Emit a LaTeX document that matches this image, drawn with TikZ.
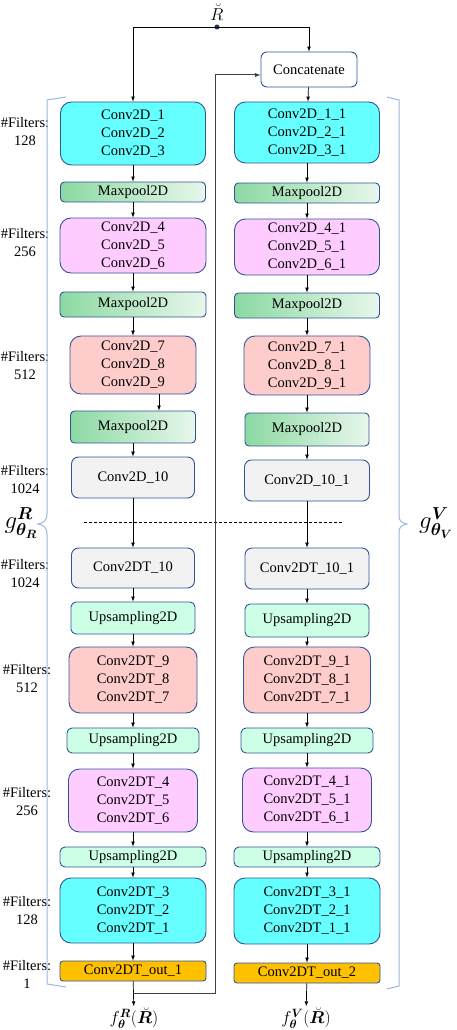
\documentclass[tikz,border=0pt]{standalone}
\usepackage{amsmath, amssymb}
\usepackage{bm}
\usepackage{fontspec}
\setmainfont{Liberation Serif}
\usetikzlibrary{arrows}
\definecolor{edgeblue}{HTML}{2F5597}
\definecolor{dotblue}{HTML}{1F3864}
\definecolor{bracecol}{HTML}{9DB5E0}
\definecolor{cyanfill}{HTML}{66FFFF}
\definecolor{pinkfill}{HTML}{FFCCFF}
\definecolor{redfill}{HTML}{FFCCCC}
\definecolor{greyfill}{HTML}{F2F2F2}
\definecolor{upfill}{HTML}{CCFFE6}
\definecolor{outfill}{HTML}{FFC000}
\definecolor{poolA}{HTML}{8CD9A2}
\definecolor{poolB}{HTML}{E8F7EC}
\tikzset{
  blk/.style={draw = edgeblue, line width = 0.9pt, inner sep = 0pt, align = center,
    font = \fontsize{14.5}{18}\selectfont},
  wh/.style 2 args={minimum width = #1pt, minimum height = #2pt},
  convblk/.style={blk, rounded corners = 11pt},
  cyanblk/.style={convblk, fill = cyanfill},
  pinkblk/.style={convblk, fill = pinkfill},
  redblk/.style={convblk, fill = redfill},
  greyblk/.style={blk, rounded corners = 7pt, fill = greyfill},
  upblk/.style={blk, rounded corners = 5pt, fill = upfill},
  poolblk/.style={blk, rounded corners = 4pt, left color = poolA, right color = poolB},
  outblk/.style={blk, rounded corners = 3pt, fill = outfill},
  filt/.style={align = center, inner sep = 0pt, font = \fontsize{14.5}{18}\selectfont},
  arr/.style={-latex, line width = 0.7pt},
  brace/.style={bracecol, line width = 1pt}
}

\begin{document}
\begin{tikzpicture}[x = 1pt, y = -1pt]

	\useasboundingbox (0, 0) rectangle (456, 1030);

	% input and concatenation
	\node[font = \fontsize{19}{20}\selectfont, inner sep = 0pt] (Rin) at (217, 12) {$\breve{R}$};
	\coordinate (split) at (217, 27);
	\node[blk, rounded corners = 6pt, wh = {96}{35}] (cat) at (309, 69.5) {Concatenate};

	% encoder / decoder R
	\node[cyanblk, wh = {145}{63}] (c1l) at (133, 133.5) {Conv2D\_1\\Conv2D\_2\\Conv2D\_3};
	\node[poolblk, wh = {145}{20}] (mp1l) at (133, 192) {Maxpool2D};
	\node[pinkblk, wh = {146}{55}] (c4l) at (133, 245.5) {Conv2D\_4\\Conv2D\_5\\Conv2D\_6};
	\node[poolblk, wh = {146}{25}] (mp2l) at (133, 304.5) {Maxpool2D};
	\node[redblk, wh = {126}{58}] (c7l) at (133, 365) {Conv2D\_7\\Conv2D\_8\\Conv2D\_9};
	\node[poolblk, wh = {125}{32}] (mp3l) at (133, 427) {Maxpool2D};
	\node[greyblk, wh = {123}{41}] (c10l) at (133, 477.5) {Conv2D\_10};
	\node[greyblk, wh = {123}{40}] (t10l) at (133, 568) {Conv2DT\_10};
	\node[upblk, wh = {124}{32}] (up1l) at (133, 618) {Upsampling2D};
	\node[redblk, wh = {128}{66}] (t9l) at (133, 680) {Conv2DT\_9\\Conv2DT\_8\\Conv2DT\_7};
	\node[upblk, wh = {132}{25}] (up2l) at (133, 740.5) {Upsampling2D};
	\node[pinkblk, wh = {129}{63}] (t4l) at (133, 800.5) {Conv2DT\_4\\Conv2DT\_5\\Conv2DT\_6};
	\node[upblk, wh = {146}{20}] (up3l) at (133, 857) {Upsampling2D};
	\node[cyanblk, wh = {146}{65}] (t3l) at (133, 910.5) {Conv2DT\_3\\Conv2DT\_2\\Conv2DT\_1};
	\node[outblk, wh = {146}{20}] (o1) at (133, 971) {Conv2DT\_out\_1};

	% encoder / decoder V
	\node[cyanblk, wh = {145}{61}] (c1r) at (307, 132.5) {Conv2D\_1\_1\\Conv2D\_2\_1\\Conv2D\_3\_1};
	\node[poolblk, wh = {145}{20}] (mp1r) at (307, 193) {Maxpool2D};
	\node[pinkblk, wh = {145}{56}] (c4r) at (307, 247) {Conv2D\_4\_1\\Conv2D\_5\_1\\Conv2D\_6\_1};
	\node[poolblk, wh = {145}{25}] (mp2r) at (307, 305.5) {Maxpool2D};
	\node[redblk, wh = {126}{59}] (c7r) at (307, 365.5) {Conv2D\_7\_1\\Conv2D\_8\_1\\Conv2D\_9\_1};
	\node[poolblk, wh = {124}{33}] (mp3r) at (307, 429.5) {Maxpool2D};
	\node[greyblk, wh = {125}{41}] (c10r) at (307, 480.5) {Conv2D\_10\_1};
	\node[greyblk, wh = {124}{41}] (t10r) at (307, 568.5) {Conv2DT\_10\_1};
	\node[upblk, wh = {124}{33}] (up1r) at (307, 620.5) {Upsampling2D};
	\node[redblk, wh = {127}{66}] (t9r) at (307, 680) {Conv2DT\_9\_1\\Conv2DT\_8\_1\\Conv2DT\_7\_1};
	\node[upblk, wh = {132}{25}] (up2r) at (307, 740.5) {Upsampling2D};
	\node[pinkblk, wh = {129}{64}] (t4r) at (307, 800) {Conv2DT\_4\_1\\Conv2DT\_5\_1\\Conv2DT\_6\_1};
	\node[upblk, wh = {146}{20}] (up3r) at (307, 857) {Upsampling2D};
	\node[cyanblk, wh = {146}{66}] (t3r) at (307, 911) {Conv2DT\_3\_1\\Conv2DT\_2\_1\\Conv2DT\_1\_1};
	\node[outblk, wh = {146}{20}] (o2) at (307, 973) {Conv2DT\_out\_2};

	% outputs
	\node[font = \fontsize{17}{18}\selectfont, inner sep = 1pt] (fR) at (134, 1018) {$f_{\bm{\theta}}^{\bm{R}}(\breve{\bm{R}})$};
	\node[font = \fontsize{17}{18}\selectfont, inner sep = 1pt] (fV) at (306, 1018) {$f_{\bm{\theta}}^{\bm{V}}(\breve{\bm{R}})$};

	% number of filters
	\node[filt] (n1) at (25, 131.5) {\#Filters:\\128};
	\node[filt] (n2) at (25, 243) {\#Filters:\\256};
	\node[filt] (n3) at (25, 366) {\#Filters:\\512};
	\node[filt] (n4) at (25, 480) {\#Filters:\\1024};
	\node[filt] (n5) at (25, 573.5) {\#Filters:\\1024};
	\node[filt] (n6) at (27, 679) {\#Filters:\\512};
	\node[filt] (n7) at (27, 802) {\#Filters:\\256};
	\node[filt] (n8) at (27, 910.5) {\#Filters:\\128};
	\node[filt] (n9) at (27, 974) {\#Filters:\\1};

	% braces
	\draw[brace] (66, 97) -- (47, 100) -- (47, 514) .. controls (47, 520) and (44, 523) .. (38, 524)
		.. controls (44, 525) and (47, 528) .. (47, 534) -- (47, 984) -- (66, 987);
	\draw[brace] (387, 97) -- (399, 100) -- (399, 516) .. controls (399, 521) and (402, 523) .. (407, 524)
		.. controls (402, 525) and (399, 527) .. (399, 532) -- (399, 986) -- (387, 989);
	\node[font = \fontsize{26}{30}\selectfont, inner sep = 0pt] (gR) at (21, 523) {$g^{\bm{R}}_{\bm{\theta}_{\bm{R}}}$};
	\node[font = \fontsize{26}{30}\selectfont, inner sep = 0pt] (gV) at (436, 523) {$g^{\bm{V}}_{\bm{\theta}_{\bm{V}}}$};

	% bottleneck separator
	\draw[dashed, dash pattern = on 3pt off 2pt, line width = 0.5pt] (84, 522) -- (343, 522);

	% connectors
	\fill[dotblue] (split) circle[radius = 2.5pt];
	\draw[arr] (split) -| (c1l);
	\draw[arr] (split) -| (cat);
	\draw[arr] (cat) -- (c1r);

	\draw[arr] (c1l) -- (mp1l);
	\draw[arr] (mp1l) -- (c4l);
	\draw[arr] (c4l) -- (mp2l);
	\draw[arr] (mp2l) -- (c7l);
	\draw[arr] ([xshift = 26pt]c7l.south) -- ([xshift = 26pt]mp3l.north);
	\draw[arr] (mp3l) -- (c10l);
	\draw[arr] (c10l) -- (t10l);
	\draw[arr] (t10l) -- (up1l);
	\draw[arr] (up1l) -- (t9l);
	\draw[arr] (t9l) -- (up2l);
	\draw[arr] (up2l) -- (t4l);
	\draw[arr] (t4l) -- (up3l);
	\draw[arr] (up3l) -- (t3l);
	\draw[arr] (t3l) -- (o1);
	\draw[arr] (o1) -- (fR);

	\draw[arr] (c1r) -- (mp1r);
	\draw[arr] (mp1r) -- (c4r);
	\draw[arr] (c4r) -- (mp2r);
	\draw[arr] (mp2r) -- (c7r);
	\draw[arr] (c7r) -- (mp3r);
	\draw[arr] (mp3r) -- (c10r);
	\draw[arr] (c10r) -- (t10r);
	\draw[arr] (t10r) -- (up1r);
	\draw[arr] (up1r) -- (t9r);
	\draw[arr] (t9r) -- (up2r);
	\draw[arr] (up2r) -- (t4r);
	\draw[arr] (t4r) -- (up3r);
	\draw[arr] (up3r) -- (t3r);
	\draw[arr] (t3r) -- (o2);
	\draw[arr] (o2) -- (fV);

	% feedback of the first output
	\coordinate (fbbot) at (133, 993);
	\coordinate (fbtop) at (215, 75);
	\draw[arr, black!75, line width = 1pt] (fbbot) -| (fbtop) -- (fbtop -| cat.west);

\end{tikzpicture}
\end{document}
